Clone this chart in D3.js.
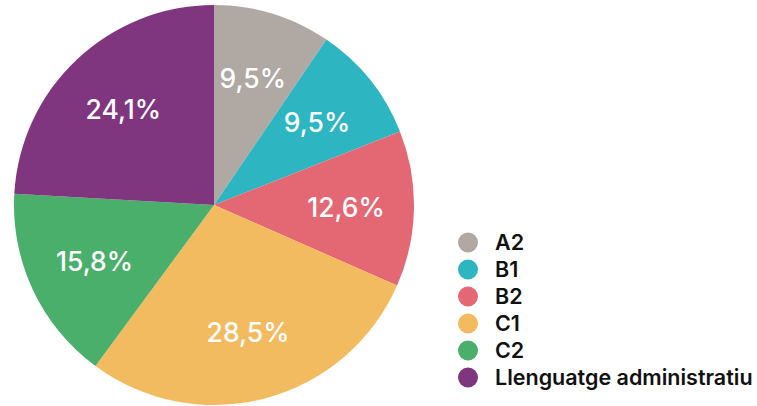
<!DOCTYPE html>
<html>
<head>
<meta charset="utf-8">
<script src="https://cdn.jsdelivr.net/npm/d3@7"></script>
<style>
  body { margin: 0; background: #fff; }
  svg { display: block; font-family: Inter, "Noto Sans", sans-serif; }
</style>
</head>
<body>
<div id="chart"></div>
<script>
// level shares (percent)
const categories = ['A2', 'B1', 'B2', 'C1', 'C2', 'Llenguatge administratiu'];
const values = [9.5, 9.5, 12.6, 28.5, 15.8, 24.1];
const colors = ['#b0a8a2', '#2db5c2', '#e36873', '#f3bb5f', '#4aaf6a', '#80357f'];

const W = 757, H = 406;
const cx = 214, cy = 205, R = 200;

const svg = d3.select('#chart').append('svg').attr('width', W).attr('height', H);

const items = categories.map((c, i) => ({ name: c, value: values[i], color: colors[i] }));

const pie = d3.pie().sort(null).value(d => d.value);
const arc = d3.arc().innerRadius(0).outerRadius(R);
const labelArc = d3.arc().innerRadius(R * 0.66).outerRadius(R * 0.66);

const g = svg.append('g').attr('transform', `translate(${cx},${cy})`);
const slices = g.selectAll('g.slice').data(pie(items)).enter().append('g').attr('class', 'slice');

slices.append('path').attr('d', arc).attr('fill', d => d.data.color);

slices.append('text')
  .attr('transform', d => `translate(${labelArc.centroid(d)})`)
  .attr('text-anchor', 'middle')
  .attr('dy', '0.36em')
  .attr('fill', '#fff')
  .attr('font-size', 26.5)
  .attr('font-weight', 500)
  .text(d => d.data.value.toFixed(1).replace('.', ',') + '%');

// legend
const y = d3.scaleBand().domain(categories).range([229, 391]);
const leg = svg.selectAll('g.leg').data(items).enter().append('g').attr('class', 'leg')
  .attr('transform', d => `translate(468, ${y(d.name) + y.bandwidth() / 2})`);

leg.append('circle').attr('r', 10).attr('fill', d => d.color);
leg.append('text')
  .attr('x', 27)
  .attr('dy', '0.36em')
  .attr('font-size', 21.5)
  .attr('font-weight', 600)
  .attr('fill', '#111')
  .text(d => d.name);
</script>
</body>
</html>
